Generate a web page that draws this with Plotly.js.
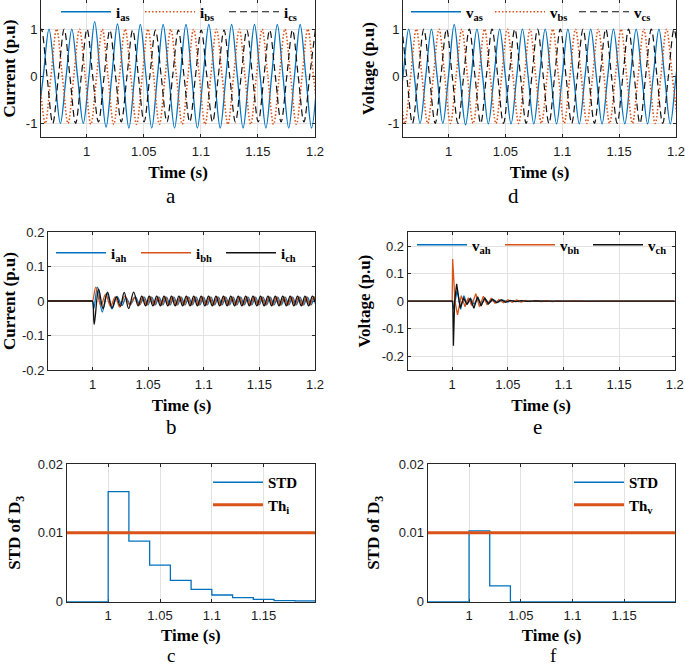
<!DOCTYPE html>
<html>
<head>
<meta charset="utf-8">
<script src="https://cdn.plot.ly/plotly-3.0.1.min.js"></script>
<style>
  html, body { margin: 0; padding: 0; background: #fff; }
  #chart { width: 685px; height: 667px; }
</style>
</head>
<body>
<div id="chart"></div>
<script>
// ---------------- DATA ----------------
// Panel a: stator currents (p.u)
const ias_t = [0.957,0.962,0.967,0.972,0.977,0.982,0.987,0.992,0.997,1.002,
  1.007,1.012,1.017,1.022,1.027,1.032,1.037,1.042,1.047,1.052,
  1.057,1.062,1.067,1.072,1.077,1.082,1.087,1.092,1.097,1.102,
  1.107,1.112,1.117,1.122,1.127,1.132,1.137,1.142,1.147,1.152,
  1.157,1.162,1.167,1.172,1.177,1.182,1.187,1.192,1.197,1.202];
const ias_v = [-1,0,1,0,-1,0,1,0,-1,0,
  1.16,0,-1.08,0,1.11,0,-1.1,0,1.1,0,
  -1.1,0,1.1,0,-1.1,0,1.1,0,-1.1,0,
  1.1,0,-1.1,0,1.1,0,-1.1,0,1.1,0,
  -1.1,0,1.1,0,-1.1,0,1.1,0,-1.1,0];
const ibs_t = [0.9587,0.9637,0.9687,0.9737,0.9787,0.9837,0.9887,0.9937,0.9987,1.0037,
  1.0087,1.0137,1.0187,1.0237,1.0287,1.0337,1.0387,1.0437,1.0487,1.0537,
  1.0587,1.0637,1.0687,1.0737,1.0787,1.0837,1.0887,1.0937,1.0987,1.1037,
  1.1087,1.1137,1.1187,1.1237,1.1287,1.1337,1.1387,1.1437,1.1487,1.1537,
  1.1587,1.1637,1.1687,1.1737,1.1787,1.1837,1.1887,1.1937,1.1987,1.2037];
const ibs_v = [0,-1,0,1,0,-1,0,1,0,-1.02,
  0,1,0,-1.02,0,1,0,-1.02,0,1,
  0,-1.02,0,1,0,-1.02,0,1,0,-1.02,
  0,1,0,-1.02,0,1,0,-1.02,0,1,
  0,-1.02,0,1,0,-1.02,0,1,0,-1.02];
const ics_t = [0.9553,0.9603,0.9653,0.9703,0.9753,0.9803,0.9853,0.9903,0.9953,1.0003,
  1.0053,1.0103,1.0153,1.0203,1.0253,1.0303,1.0353,1.0403,1.0453,1.0503,
  1.0553,1.0603,1.0653,1.0703,1.0753,1.0803,1.0853,1.0903,1.0953,1.1003,
  1.1053,1.1103,1.1153,1.1203,1.1253,1.1303,1.1353,1.1403,1.1453,1.1503,
  1.1553,1.1603,1.1653,1.1703,1.1753,1.1803,1.1853,1.1903,1.1953,1.2003];
const ics_v = [0,1,0,-1,0,1,0,-1,0,1,
  0,-0.97,0,0.98,0,-0.97,0,0.98,0,-0.97,
  0,0.98,0,-0.97,0,0.98,0,-0.97,0,0.98,
  0,-0.97,0,0.98,0,-0.97,0,0.98,0,-0.97,
  0,0.98,0,-0.97,0,0.98,0,-0.97,0,0.98];

// Panel d: stator voltages (p.u)
const vas_t = [0.955,0.960,0.965,0.970,0.975,0.980,0.985,0.990,0.995,1.000,
  1.005,1.010,1.015,1.020,1.025,1.030,1.035,1.040,1.045,1.050,
  1.055,1.060,1.065,1.070,1.075,1.080,1.085,1.090,1.095,1.100,
  1.105,1.110,1.115,1.120,1.125,1.130,1.135,1.140,1.145,1.150,
  1.155,1.160,1.165,1.170,1.175,1.180,1.185,1.190,1.195,1.200,1.205];
const vas_v = [-1,0,1,0,-1,0,1,0,-1,0,
  1.1,0,-1.03,0,1,0,-1.01,0,1,0,
  -1.01,0,1,0,-1.01,0,1,0,-1.01,0,
  1,0,-1.01,0,1,0,-1.01,0,1,0,
  -1.01,0,1,0,-1.01,0,1,0,-1.01,0,1];
const vbs_t = [0.9567,0.9617,0.9667,0.9717,0.9767,0.9817,0.9867,0.9917,0.9967,1.0017,
  1.0067,1.0117,1.0167,1.0217,1.0267,1.0317,1.0367,1.0417,1.0467,1.0517,
  1.0567,1.0617,1.0667,1.0717,1.0767,1.0817,1.0867,1.0917,1.0967,1.1017,
  1.1067,1.1117,1.1167,1.1217,1.1267,1.1317,1.1367,1.1417,1.1467,1.1517,
  1.1567,1.1617,1.1667,1.1717,1.1767,1.1817,1.1867,1.1917,1.1967,1.2017];
const vbs_v = [0,-1,0,1,0,-1,0,1,0,-1,
  0,1,0,-1,0,1,0,-1,0,1,
  0,-1,0,1,0,-1,0,1,0,-1,
  0,1,0,-1,0,1,0,-1,0,1,
  0,-1,0,1,0,-1,0,1,0,-1];
const vcs_t = [0.9533,0.9583,0.9633,0.9683,0.9733,0.9783,0.9833,0.9883,0.9933,0.9983,
  1.0033,1.0083,1.0133,1.0183,1.0233,1.0283,1.0333,1.0383,1.0433,1.0483,
  1.0533,1.0583,1.0633,1.0683,1.0733,1.0783,1.0833,1.0883,1.0933,1.0983,
  1.1033,1.1083,1.1133,1.1183,1.1233,1.1283,1.1333,1.1383,1.1433,1.1483,
  1.1533,1.1583,1.1633,1.1683,1.1733,1.1783,1.1833,1.1883,1.1933,1.1983,1.2033];
const vcs_v = [0,1,0,-1,0,1,0,-1,0,1,
  0,-1,0,1,0,-1,0,1,0,-1,
  0,1,0,-1,0,1,0,-1,0,1,
  0,-1,0,1,0,-1,0,1,0,-1,
  0,1,0,-1,0,1,0,-1,0,1,0];

// Panel b: harmonic currents (p.u)
const iah_t = [0.96,0.99,0.999,1.0,1.0012,1.0045,1.0088,1.013,1.0175,1.022,1.0265,1.030,1.034,1.0385,1.0425,
  1.0465,1.0498,1.0532,1.0565,1.0598,1.0632,1.0665,1.0698,1.0732,1.0765,1.0798,1.0832,
  1.0865,1.0898,1.0932,1.0965,1.0998,1.1032,1.1065,1.1098,1.1132,1.1165,1.1198,1.1232,
  1.1265,1.1298,1.1332,1.1365,1.1398,1.1432,1.1465,1.1498,1.1532,1.1565,1.1598,1.1632,
  1.1665,1.1698,1.1732,1.1765,1.1798,1.1832,1.1865,1.1898,1.1932,1.1965,1.1998,1.2032];
const iah_v = [0,0,0,0,-0.022,0.04,-0.032,0.022,-0.023,0.013,-0.013,0.01,-0.01,0.012,-0.01,
  0.011,-0.011,0.011,-0.011,0.011,-0.011,0.011,-0.011,0.011,-0.011,0.011,-0.011,
  0.011,-0.011,0.011,-0.011,0.011,-0.011,0.011,-0.011,0.011,-0.011,0.011,-0.011,
  0.011,-0.011,0.011,-0.011,0.011,-0.011,0.011,-0.011,0.011,-0.011,0.011,-0.011,
  0.011,-0.011,0.011,-0.011,0.011,-0.011,0.011,-0.011,0.011,-0.011,0.011,-0.011];
const ibh_t = [0.96,0.99,0.999,1.0,1.003,1.0075,1.0118,1.0162,1.0205,1.0245,1.029,1.0335,1.0375,
  1.0421,1.0454,1.0488,1.0521,1.0554,1.0588,1.0621,1.0654,1.0688,1.0721,1.0754,1.0788,
  1.0821,1.0854,1.0888,1.0921,1.0954,1.0988,1.1021,1.1054,1.1088,1.1121,1.1154,1.1188,
  1.1221,1.1254,1.1288,1.1321,1.1354,1.1388,1.1421,1.1454,1.1488,1.1521,1.1554,1.1588,
  1.1621,1.1654,1.1688,1.1721,1.1754,1.1788,1.1821,1.1854,1.1888,1.1921,1.1954,1.1988,1.2021];
const ibh_v = [0,0,0,0,0.04,-0.014,0.02,-0.015,0.012,-0.018,0.014,-0.012,0.01,
  -0.012,0.012,-0.012,0.012,-0.012,0.012,-0.012,0.012,-0.012,0.012,-0.012,0.012,
  -0.012,0.012,-0.012,0.012,-0.012,0.012,-0.012,0.012,-0.012,0.012,-0.012,0.012,
  -0.012,0.012,-0.012,0.012,-0.012,0.012,-0.012,0.012,-0.012,0.012,-0.012,0.012,
  -0.012,0.012,-0.012,0.012,-0.012,0.012,-0.012,0.012,-0.012,0.012,-0.012,0.012,-0.012];
const ich_t = [0.96,0.99,0.999,1.0,1.0015,1.0055,1.0095,1.0135,1.0175,1.0215,1.025,1.0285,1.0325,1.037,1.041,
  1.0443,1.0477,1.0510,1.0543,1.0577,1.0610,1.0643,1.0677,1.0710,1.0743,1.0777,1.0810,
  1.0843,1.0877,1.0910,1.0943,1.0977,1.1010,1.1043,1.1077,1.1110,1.1143,1.1177,1.1210,
  1.1243,1.1277,1.1310,1.1343,1.1377,1.1410,1.1443,1.1477,1.1510,1.1543,1.1577,1.1610,
  1.1643,1.1677,1.1710,1.1743,1.1777,1.1810,1.1843,1.1877,1.1910,1.1943,1.1977,1.2010];
const ich_v = [0,0,0,0,-0.068,0.034,-0.022,0.026,-0.02,0.012,-0.015,0.025,-0.022,0.026,-0.014,
  0.014,-0.014,0.014,-0.014,0.014,-0.014,0.014,-0.014,0.014,-0.014,0.014,-0.014,
  0.014,-0.014,0.014,-0.014,0.014,-0.014,0.014,-0.014,0.014,-0.014,0.014,-0.014,
  0.014,-0.014,0.014,-0.014,0.014,-0.014,0.014,-0.014,0.014,-0.014,0.014,-0.014,
  0.014,-0.014,0.014,-0.014,0.014,-0.014,0.014,-0.014,0.014,-0.014,0.014,-0.014];

// Panel e: harmonic voltages (p.u)
const vah_t = [0.96,1.0,1.0012,1.0045,1.0075,1.0105,1.0135,1.0165,1.0198,1.023,1.0262,1.0295,
  1.033,1.037,1.041,1.045,1.05,1.055,1.06,1.067,1.075,1.2];
const vah_v = [0,0,-0.03,0.04,-0.03,0.02,-0.012,0.01,-0.012,0.014,-0.012,0.01,
  -0.008,0.006,-0.005,0.004,-0.003,0.002,-0.002,0.001,0,0];
const vbh_t = [0.96,1.0,1.0004,1.0025,1.0048,1.0082,1.0115,1.0145,1.0175,1.0212,1.0245,1.028,
  1.0315,1.035,1.0385,1.042,1.046,1.05,1.054,1.058,1.062,1.066,1.07,1.075,1.08,1.085,
  1.09,1.095,1.1,1.11,1.12,1.135,1.2];
const vbh_v = [0,0,0.153,0,-0.05,0.02,-0.02,0.012,-0.016,0.027,-0.02,0.018,
  -0.014,0.01,-0.008,0.006,-0.006,0.005,-0.004,0.004,-0.003,0.003,-0.002,0.002,-0.002,0.0015,
  -0.0015,0.001,-0.001,0.001,-0.001,0,0];
const vch_t = [0.96,1.0,1.0005,1.0011,1.0022,1.004,1.0072,1.0102,1.0132,1.0162,1.0195,1.0228,
  1.026,1.0292,1.0325,1.036,1.04,1.044,1.048,1.052,1.057,1.062,1.068,1.075,1.085,1.2];
const vch_v = [0,0,0,-0.162,0,0.063,-0.025,0.012,-0.012,0.01,-0.026,0.016,
  -0.018,0.012,-0.01,0.007,-0.006,0.005,-0.004,0.003,-0.002,0.002,-0.001,0.001,0,0];

// Panels c & f: STD of D3 (step values) and thresholds
const stdI_t = [0.96,1.00,1.02,1.04,1.06,1.08,1.10,1.12,1.14,1.16,1.18,1.2];
const stdI_v = [0,0.016,0.0088,0.0053,0.0031,0.0018,0.00097,0.00058,0.00035,0.00015,0.0001,0.0001];
const thI_t = [0.96,1.2];
const thI_v = [0.01,0.01];
const stdV_t = [0.96,1.00,1.02,1.04,1.2];
const stdV_v = [0,0.0103,0.0023,0,0];
const thV_t = [0.96,1.2];
const thV_v = [0.01,0.01];

const timeTicks = [1,1.05,1.1,1.15,1.2];
const timeTickText = ['1','1.05','1.1','1.15','1.2'];
const timeTicks2 = [1,1.05,1.1,1.15];
const timeTickText2 = ['1','1.05','1.1','1.15'];
const yTicksA = [-1,0,1];
const yTickTextA = ['-1','0','1'];
const yTicksB = [-0.2,-0.1,0,0.1,0.2];
const yTickTextB = ['-0.2','-0.1','0','0.1','0.2'];
const yTicksC = [0,0.01,0.02];
const yTickTextC = ['0','0.01','0.02'];

// ---------------- STYLE ----------------
const SERIF = 'Liberation Serif, Times New Roman, serif';
const SANS = 'Liberation Sans, Arial, sans-serif';
const BLUE = '#0072BD', ORANGE = '#D95319', BLACK = '#111111';
const W = 685, H = 667;

function xAx(px0, px1, range, tv, tt, anchor, standoff) {
  return {
    domain: [px0 / W, px1 / W], range: range, anchor: anchor,
    tickvals: tv, ticktext: tt, ticklabelstandoff: 2, ticklabeloverflow: 'allow',
    title: { text: 'Time (s)', font: { family: SERIF, size: 17, weight: 'bold', color: '#000' }, standoff: standoff },
    showline: true, linecolor: '#262626', linewidth: 1, mirror: 'ticks',
    ticks: 'inside', ticklen: 3, tickcolor: '#262626',
    showgrid: true, gridcolor: '#e2e2e2', gridwidth: 1, zeroline: false,
    tickfont: { family: SANS, size: 13, color: '#1a1a1a' }, automargin: false, layer: 'below traces'
  };
}
function yAx(py0, py1, range, tv, tt, title, anchor, standoff) {
  return {
    domain: [1 - py1 / H, 1 - py0 / H], range: range, anchor: anchor,
    tickvals: tv, ticktext: tt,
    title: { text: title, font: { family: SERIF, size: 17, weight: 'bold', color: '#000' }, standoff: standoff },
    showline: true, linecolor: '#262626', linewidth: 1, mirror: 'ticks',
    ticks: 'inside', ticklen: 3, tickcolor: '#262626',
    showgrid: true, gridcolor: '#e2e2e2', gridwidth: 1, zeroline: false,
    tickfont: { family: SANS, size: 13, color: '#1a1a1a' }, automargin: false, layer: 'below traces'
  };
}
function hLegend(px, py, ew) {
  return {
    orientation: 'h', x: px / W, y: 1 - py / H, xanchor: 'left', yanchor: 'middle',
    bgcolor: 'rgba(0,0,0,0)', borderwidth: 0,
    font: { family: SERIF, size: 15, weight: 'bold', color: '#000' },
    entrywidth: ew, entrywidthmode: 'pixels', itemwidth: 50, itemclick: false, itemdoubleclick: false
  };
}
function vLegend(px, py) {
  return {
    orientation: 'v', x: px / W, y: 1 - py / H, xanchor: 'left', yanchor: 'top',
    bgcolor: 'rgba(0,0,0,0)', borderwidth: 0,
    font: { family: SERIF, size: 15, weight: 'bold', color: '#000' },
    itemwidth: 50, itemclick: false, itemdoubleclick: false
  };
}
function tr(x, y, xa, ya, color, width, dash, shape, name, legend) {
  return {
    type: 'scatter', mode: 'lines', x: x, y: y, xaxis: xa, yaxis: ya, name: name, legend: legend,
    line: { color: color, width: width, dash: dash, shape: shape }, hoverinfo: 'skip'
  };
}

const data = [
  tr(ias_t, ias_v, 'x', 'y', BLUE, 1.3, 'solid', 'spline', 'i<sub>as</sub>', 'legend'),
  tr(ibs_t, ibs_v, 'x', 'y', ORANGE, 1.6, '1.5px,2px', 'spline', 'i<sub>bs</sub>', 'legend'),
  tr(ics_t, ics_v, 'x', 'y', BLACK, 1.2, '7px,4px', 'spline', 'i<sub>cs</sub>', 'legend'),

  tr(vas_t, vas_v, 'x2', 'y2', BLUE, 1.3, 'solid', 'spline', 'v<sub>as</sub>', 'legend2'),
  tr(vbs_t, vbs_v, 'x2', 'y2', ORANGE, 1.6, '1.5px,2px', 'spline', 'v<sub>bs</sub>', 'legend2'),
  tr(vcs_t, vcs_v, 'x2', 'y2', BLACK, 1.2, '7px,4px', 'spline', 'v<sub>cs</sub>', 'legend2'),

  tr(iah_t, iah_v, 'x3', 'y3', BLUE, 1.3, 'solid', 'spline', 'i<sub>ah</sub>', 'legend3'),
  tr(ibh_t, ibh_v, 'x3', 'y3', ORANGE, 1.3, 'solid', 'spline', 'i<sub>bh</sub>', 'legend3'),
  tr(ich_t, ich_v, 'x3', 'y3', BLACK, 1.3, 'solid', 'spline', 'i<sub>ch</sub>', 'legend3'),

  tr(vah_t, vah_v, 'x4', 'y4', BLUE, 1.3, 'solid', 'linear', 'v<sub>ah</sub>', 'legend4'),
  tr(vbh_t, vbh_v, 'x4', 'y4', ORANGE, 1.3, 'solid', 'linear', 'v<sub>bh</sub>', 'legend4'),
  tr(vch_t, vch_v, 'x4', 'y4', BLACK, 1.3, 'solid', 'linear', 'v<sub>ch</sub>', 'legend4'),

  tr(stdI_t, stdI_v, 'x5', 'y5', BLUE, 1.3, 'solid', 'hv', 'STD', 'legend5'),
  tr(thI_t, thI_v, 'x5', 'y5', ORANGE, 3, 'solid', 'linear', 'Th<sub>i</sub>', 'legend5'),

  tr(stdV_t, stdV_v, 'x6', 'y6', BLUE, 1.3, 'solid', 'hv', 'STD', 'legend6'),
  tr(thV_t, thV_v, 'x6', 'y6', ORANGE, 3, 'solid', 'linear', 'Th<sub>v</sub>', 'legend6')
];

function letter(t, px, py, anchor, size) {
  return { text: t, xref: 'paper', yref: 'paper', x: px / W, y: 1 - py / H, showarrow: false, borderpad: 0,
    xanchor: 'center', yanchor: anchor || 'middle', font: { family: SERIF, size: size || 21, color: '#000' } };
}

const layout = {
  width: W, height: H, margin: { l: 0, r: 0, t: 0, b: 0, autoexpand: false },
  paper_bgcolor: '#fff', plot_bgcolor: '#fff', showlegend: true,
  xaxis: xAx(41, 315, [0.96, 1.20001], timeTicks, timeTickText, 'y', 8),
  yaxis: yAx(0, 137, [-1.29, 1.62], yTicksA, yTickTextA, 'Current (p.u)', 'x', 6),
  xaxis2: xAx(403, 676, [0.96, 1.20001], timeTicks, timeTickText, 'y2', 8),
  yaxis2: yAx(0, 137, [-1.29, 1.62], yTicksA, yTickTextA, 'Voltage (p.u)', 'x2', 8),
  xaxis3: xAx(48, 315, [0.96, 1.20001], timeTicks, timeTickText, 'y3', 8),
  yaxis3: yAx(232, 370, [-0.2, 0.2], yTicksB, yTickTextB, 'Current (p.u)', 'x3', 8),
  xaxis4: xAx(407.7, 674.7, [0.96, 1.20001], timeTicks, timeTickText, 'y4', 8),
  yaxis4: yAx(232.3, 370, [-0.25, 0.25], yTicksB, yTickTextB, 'Voltage (p.u)', 'x4', 6),
  xaxis5: xAx(66.7, 315, [0.96, 1.1995], timeTicks2, timeTickText2, 'y5', 6),
  yaxis5: yAx(464, 601.7, [0, 0.02], yTicksC, yTickTextC, 'STD of D<sub>3</sub>', 'x5', 12),
  xaxis6: xAx(427.7, 675.3, [0.96, 1.1995], timeTicks2, timeTickText2, 'y6', 6),
  yaxis6: yAx(464, 601.7, [0, 0.02], yTicksC, yTickTextC, 'STD of D<sub>3</sub>', 'x6', 14),
  legend: hLegend(56, 12, 19),
  legend2: hLegend(406, 12, 19),
  legend3: hLegend(51, 253, 20),
  legend4: hLegend(412, 245, 23),
  legend5: vLegend(208, 466),
  legend6: vLegend(569, 466),
  annotations: [
    letter('a', 171, 196), letter('d', 513, 196),
    letter('b', 171, 427), letter('e', 537, 427),
    letter('c', 171, 667, 'bottom', 19), letter('f', 553, 667, 'bottom', 19)
  ]
};

Plotly.newPlot('chart', data, layout, { displayModeBar: false, staticPlot: true });
</script>
</body>
</html>
